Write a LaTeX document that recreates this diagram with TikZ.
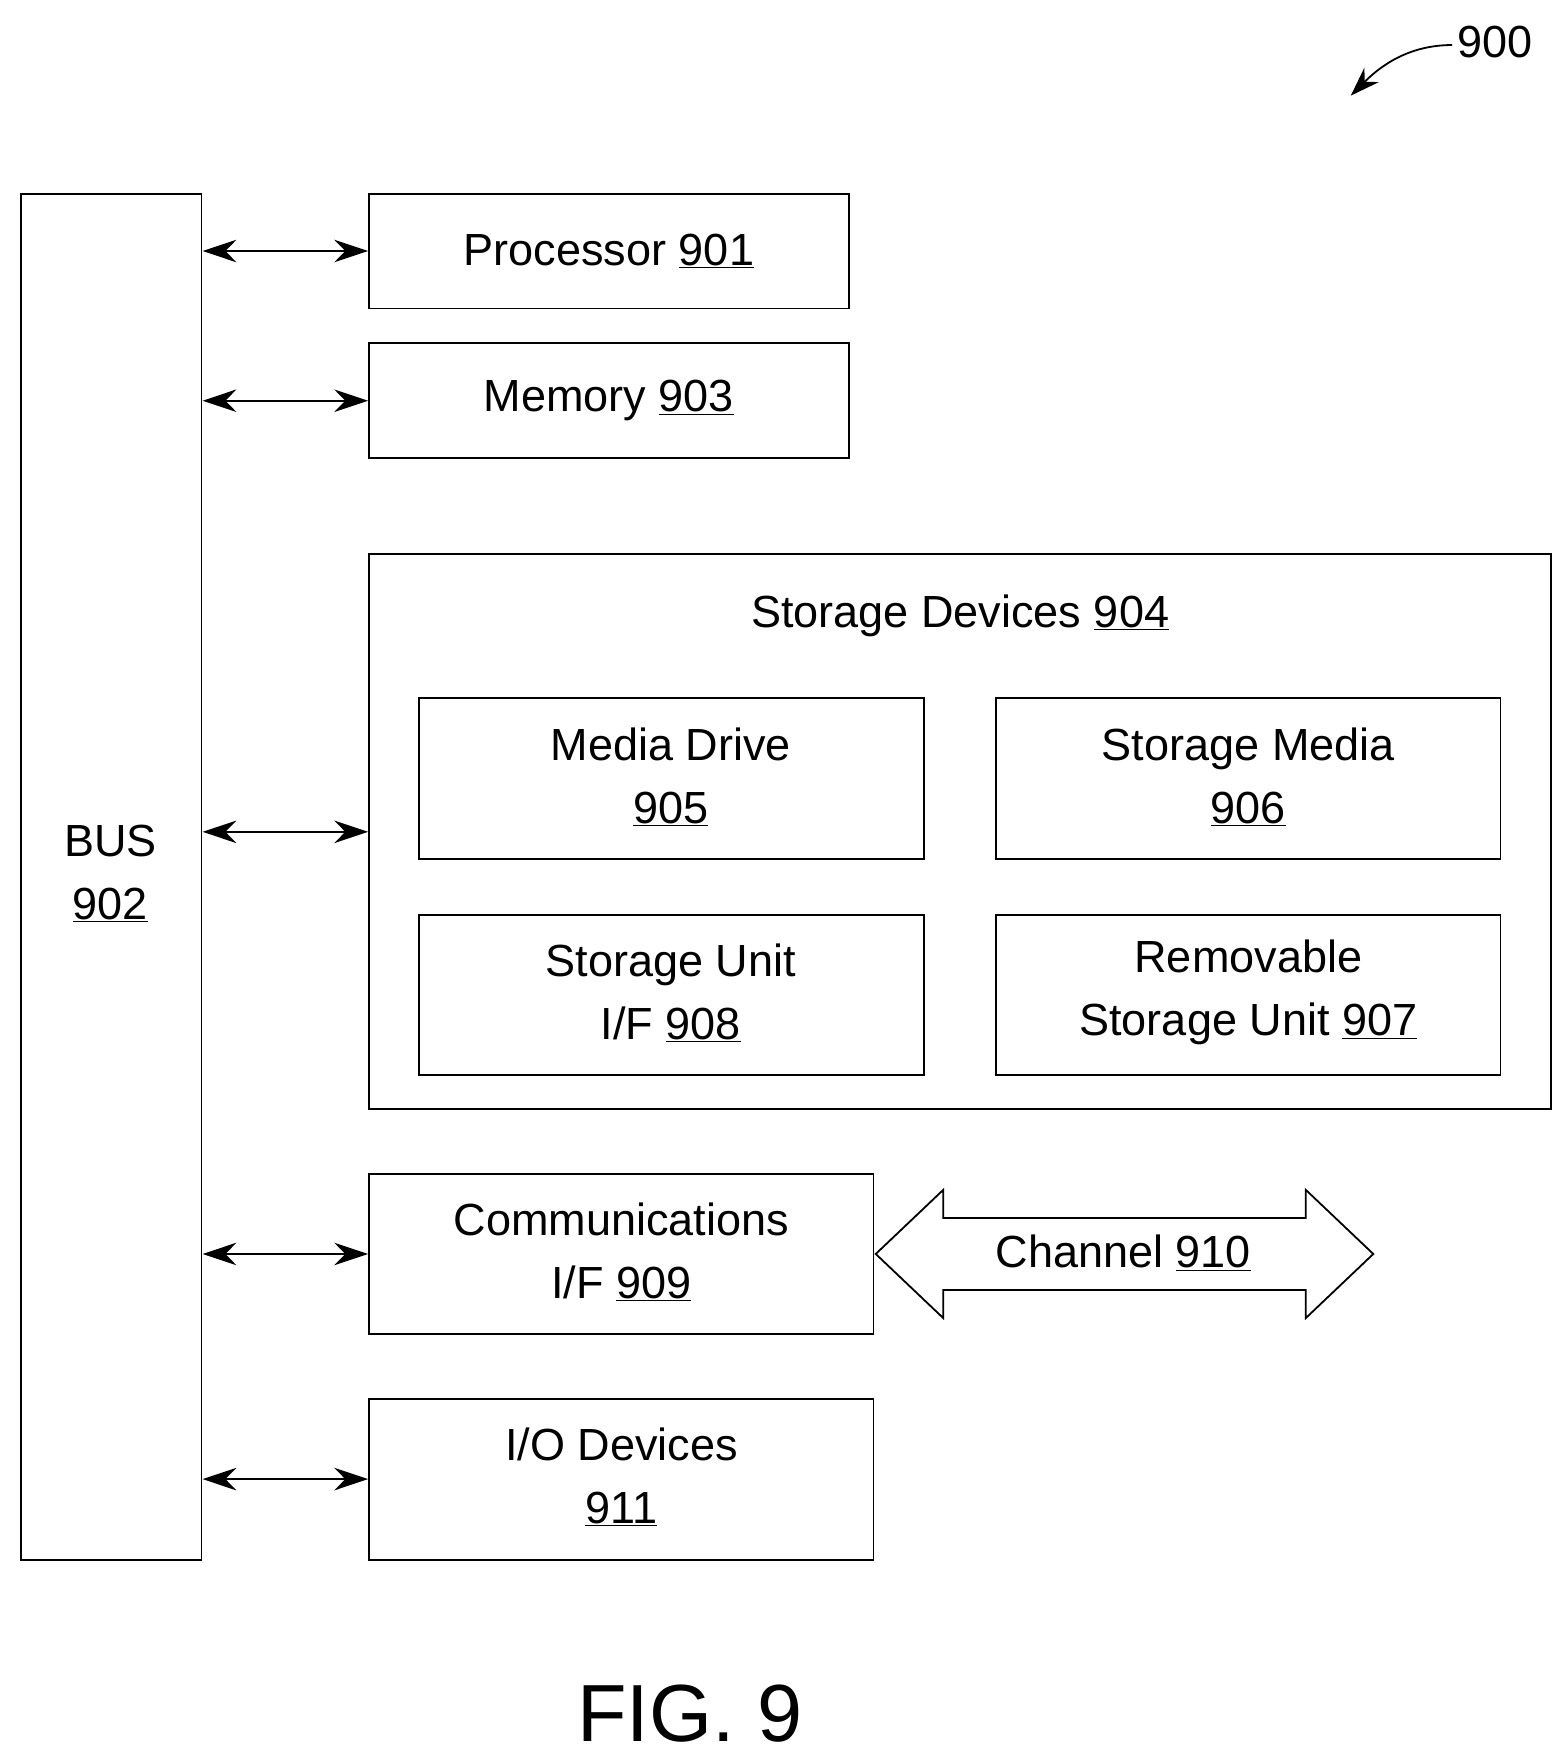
\documentclass[tikz,border=0pt]{standalone}
\usepackage{fontspec}
\setmainfont{Liberation Sans}
\usetikzlibrary{arrows.meta}
\begin{document}
\begin{tikzpicture}[x=1pt,y=-1pt,
  box/.style={draw,line width=1.6pt},
  lbl/.style={font=\fontsize{40}{56}\selectfont,align=center},
  bi/.style={{Stealth[length=30pt,width=20pt]}-{Stealth[length=30pt,width=20pt]},line width=1.6pt}]
\useasboundingbox (0,0) rectangle (1390,1560);
\draw[box] (19,172) rectangle (179,1386);
\node[lbl] (bus) at (98,776) {BUS\\\underline{902}};
\draw[box] (328,172) rectangle (754,274);
\node[lbl] (p) at (541,223) {Processor \underline{901}};
\draw[box] (328,305) rectangle (754,407);
\node[lbl] (m) at (541,356) {Memory \underline{903}};
\draw[box] (328,492) rectangle (1378,985);
\node[lbl] (s) at (853,547) {Storage Devices \underline{904}};
\draw[box] (372,620) rectangle (821,763);
\node[lbl] (md) at (596,690) {Media Drive\\\underline{905}};
\draw[box] (885,620) rectangle (1333,763);
\node[lbl] (sm) at (1109,690) {Storage Media\\\underline{906}};
\draw[box] (372,813) rectangle (821,955);
\node[lbl] (su) at (596,882) {Storage Unit\\I/F \underline{908}};
\draw[box] (885,813) rectangle (1333,955);
\node[lbl] (rs) at (1109,882) {Removable\\Storage Unit \underline{907}};
\draw[box] (328,1043) rectangle (776,1185);
\node[lbl] (c) at (552,1112) {Communications\\I/F \underline{909}};
\draw[box] (328,1243) rectangle (776,1386);
\node[lbl] (io) at (552,1312) {I/O Devices\\\underline{911}};
\foreach \y in {223,356,739,1114,1314} \draw[bi] (180,\y) -- (327,\y);
\draw[line width=1.6pt] (778,1114) -- (838,1057) -- (838,1082) -- (1160,1082) -- (1160,1057) -- (1220,1114) -- (1160,1171) -- (1160,1146) -- (838,1146) -- (838,1171) -- cycle;
\node[lbl] (ch) at (998,1113) {Channel \underline{910}};
\node[lbl] (n900) at (1328,37) {900};
\draw[line width=1.6pt,-{Stealth[length=26pt,width=18pt]}] (1290,40) .. controls (1250,40) and (1225,60) .. (1200,85);
\node[font=\fontsize{72}{80}\selectfont] (fig) at (613,1522) {FIG. 9};
\end{tikzpicture}
\end{document}
